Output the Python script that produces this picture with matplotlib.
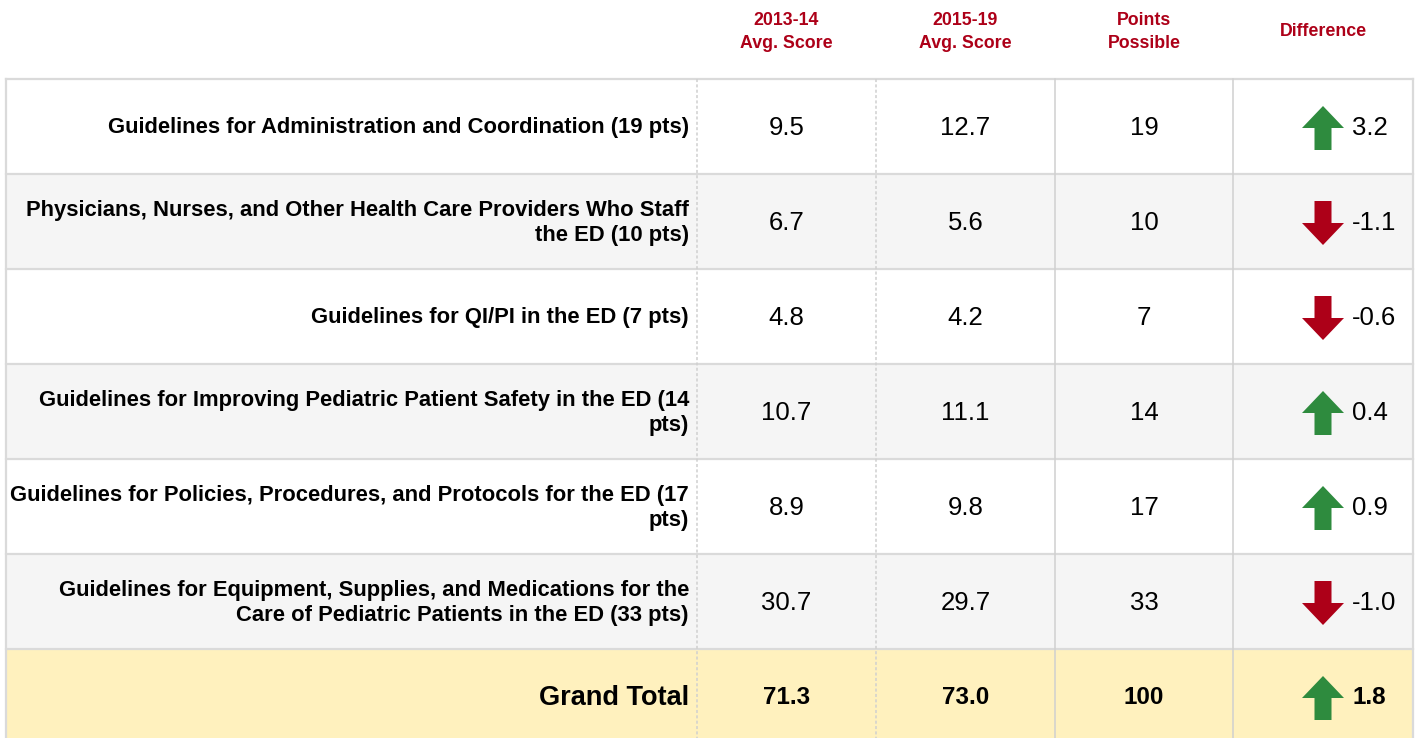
import matplotlib.pyplot as plt
from matplotlib.patches import Rectangle, Polygon

plt.rcParams['font.family'] = ['Liberation Sans', 'DejaVu Sans']

# data
categories = [
    "Guidelines for Administration and Coordination (19 pts)",
    "Physicians, Nurses, and Other Health Care Providers Who Staff\nthe ED (10 pts)",
    "Guidelines for QI/PI in the ED (7 pts)",
    "Guidelines for Improving Pediatric Patient Safety in the ED (14\npts)",
    "Guidelines for Policies, Procedures, and Protocols for the ED (17\npts)",
    "Guidelines for Equipment, Supplies, and Medications for the\nCare of Pediatric Patients in the ED (33 pts)",
]
score_1314 = ["9.5", "6.7", "4.8", "10.7", "8.9", "30.7"]
score_1519 = ["12.7", "5.6", "4.2", "11.1", "9.8", "29.7"]
possible = ["19", "10", "7", "14", "17", "33"]
difference = [3.2, -1.1, -0.6, 0.4, 0.9, -1.0]
total_row = ["71.3", "73.0", "100"]
total_diff = 1.8
headers = ["2013-14\nAvg. Score", "2015-19\nAvg. Score", "Points\nPossible", "Difference"]

# layout (pixels)
W, H = 1418, 738
left, right = 6, 1413
col_x = [697, 876, 1055, 1233]
top = 79
row_h = 95

red = "#AD0018"
green = "#2E8B3E"
grid = "#DADADA"

fig = plt.figure(figsize=(W / 100, H / 100), dpi=100)
ax = fig.add_axes([0, 0, 1, 1])
ax.set_xlim(0, W)
ax.set_ylim(H, 0)
ax.axis("off")

col_centers = [(col_x[i] + col_x[i + 1]) / 2 for i in range(3)] + [(col_x[3] + right) / 2]

# headers
for i, h in enumerate(headers):
    ax.text(col_centers[i], 32, h, ha="center", va="center", color=red,
            fontsize=12.8, fontweight="bold", linespacing=1.4)


def draw_arrow(cx, cy, up, color):
    hw, sw, hh, h = 21, 8.5, 22, 44
    s = -1 if up else 1
    tip = cy + s * h / 2
    base = cy - s * h / 2
    neck = tip - s * hh
    pts = [(cx, tip), (cx - hw, neck), (cx - sw, neck), (cx - sw, base),
           (cx + sw, base), (cx + sw, neck), (cx + hw, neck)]
    ax.add_patch(Polygon(pts, closed=True, color=color, lw=0))


n = len(categories)
for r in range(n + 1):
    y0 = top + r * row_h
    yc = y0 + row_h / 2
    if r < n:
        bg = "white" if r % 2 == 0 else "#F5F5F5"
    else:
        bg = "#FFF1BE"
    ax.add_patch(Rectangle((left, y0), right - left, row_h, color=bg, lw=0, zorder=0))

    if r < n:
        label = categories[r]
        vals = [score_1314[r], score_1519[r], possible[r]]
        d = difference[r]
        fw = "normal"
        lab_fs = 15.8
        val_fs = 18.5
    else:
        label = "Grand Total"
        vals = total_row
        d = total_diff
        fw = "bold"
        lab_fs = 19.5
        val_fs = 17.5

    ax.text(689, yc + 1.5, label, ha="right", va="center", fontsize=lab_fs,
            fontweight="bold", linespacing=1.3)
    for i, v in enumerate(vals):
        ax.text(col_centers[i], yc + 1.5, v, ha="center", va="center",
                fontsize=val_fs, fontweight=fw)
    draw_arrow(1323, yc + 1.5, d > 0, green if d > 0 else red)
    ax.text(1352, yc + 1.5, "%.1f" % d, ha="left", va="center", fontsize=val_fs, fontweight=fw)

# grid lines
for r in range(n + 1):
    ax.plot([left, right], [top + r * row_h] * 2, color=grid, lw=1.6, zorder=2)
ax.plot([left, left], [top, H], color=grid, lw=1.6, zorder=2)
ax.plot([right, right], [top, H], color=grid, lw=1.6, zorder=2)
for i, x in enumerate(col_x):
    ls = (0, (2, 1.5)) if i < 2 else "-"
    ax.plot([x, x], [top, H], color="#D0D0D0", lw=1.1, ls=ls, zorder=2)

fig.savefig("out.png", dpi=100, facecolor="white")
